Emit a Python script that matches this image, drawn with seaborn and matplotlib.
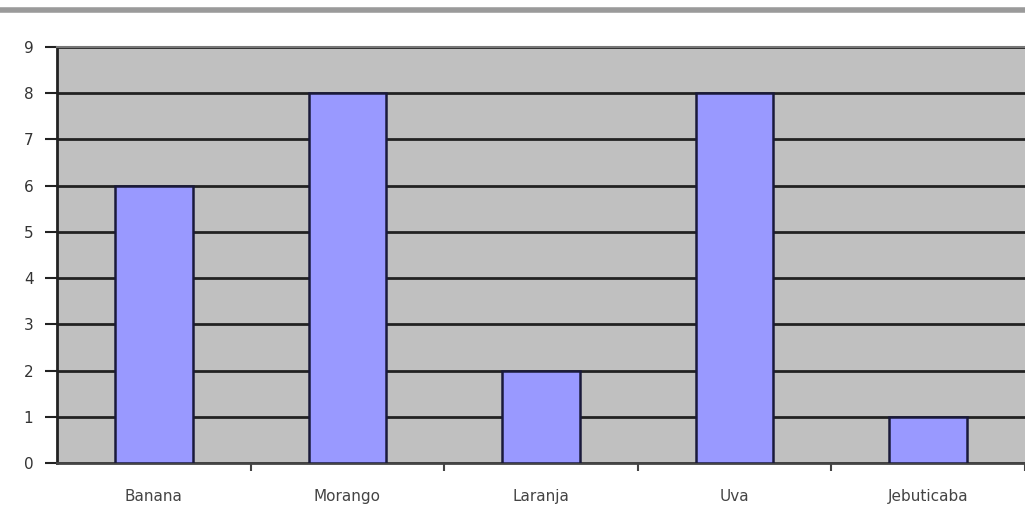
import numpy as np
import pandas as pd
import matplotlib
matplotlib.use("Agg")
import matplotlib.pyplot as plt
from matplotlib.lines import Line2D
from matplotlib.ticker import FixedLocator
import seaborn as sns

# -----------------------------
# DATA
# -----------------------------
frutas = ["Banana", "Morango", "Laranja", "Uva", "Jebuticaba"]
votos = [6, 8, 2, 8, 1]
y_ticks = list(range(0, 10))

df = pd.DataFrame({"fruta": frutas, "votos": votos})

# -----------------------------
# PLOT
# -----------------------------
sns.set_style("white")
plt.rcParams["font.family"] = ["DejaVu Sans"]

fig = plt.figure(figsize=(10.25, 5.12), dpi=100)
ax = fig.add_axes([0.0556, 0.0957, 0.9444, 0.8125])
ax.set_facecolor("#C0C0C0")

sns.barplot(
    data=df, x="fruta", y="votos", ax=ax,
    color="#9999FF", saturation=1, width=0.4,
    edgecolor="#1a1a3a", linewidth=1.8, zorder=3
)

ax.set_ylim(0, 9)
ax.set_xlim(-0.5, len(frutas) - 0.5)
ax.set_yticks(y_ticks)
ax.yaxis.grid(True, color="#222222", linewidth=2)
ax.set_axisbelow(True)

ax.set_xlabel("")
ax.set_ylabel("")

# ticks
ax.tick_params(axis="y", left=True, length=9, width=1.5, color="#222222",
               labelsize=11, labelcolor="#333333", pad=8)
ax.tick_params(axis="x", which="major", bottom=True, length=0, labelsize=11,
               labelcolor="#444444", pad=19)
ax.xaxis.set_minor_locator(FixedLocator(np.arange(0.5, len(frutas), 1.0)))
ax.tick_params(axis="x", which="minor", bottom=True, length=6, width=1.5,
               color="#444444")

# spines
ax.spines["right"].set_visible(False)
ax.spines["top"].set_color("#777777")
ax.spines["top"].set_linewidth(1.5)
ax.spines["left"].set_color("#222222")
ax.spines["left"].set_linewidth(2)
ax.spines["bottom"].set_color("#444444")
ax.spines["bottom"].set_linewidth(2)

# faixa cinza no topo
fig.add_artist(Line2D([0, 1], [0.981, 0.981], transform=fig.transFigure,
                      color="#9a9a9a", linewidth=4))

fig.savefig("out.png", dpi=100, facecolor="white")
